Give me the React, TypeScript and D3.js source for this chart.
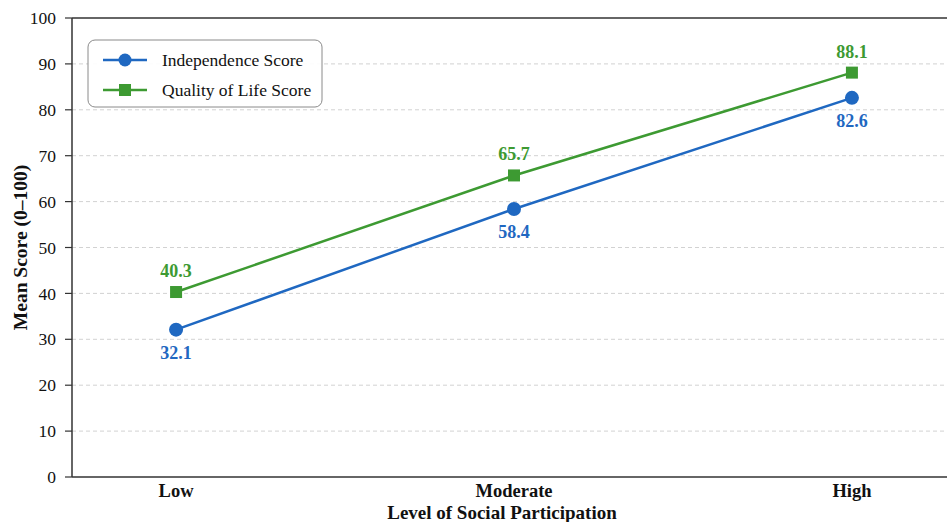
import React from 'react';
import * as d3 from 'd3';

const categories = ['Low', 'Moderate', 'High'];
const independence = [32.1, 58.4, 82.6];
const qualityOfLife = [40.3, 65.7, 88.1];
const yTicks = [0, 10, 20, 30, 40, 50, 60, 70, 80, 90, 100];

const width = 947;
const height = 522;
const margin = { top: 18, right: -9, bottom: 45, left: 72 };

const blue = '#1f68c1';
const green = '#3d9a32';
const font = '"Liberation Serif", "DejaVu Serif", serif';

const App = () => {
  const innerW = width - margin.left - margin.right;
  const innerH = height - margin.top - margin.bottom;

  const x = d3.scalePoint<string>().domain(categories).range([0, innerW]).padding(0.308);
  const y = d3.scaleLinear().domain([0, 100]).range([innerH, 0]);

  const line = d3
    .line<number>()
    .x((_, i) => x(categories[i]) as number)
    .y((d) => y(d));

  return (
    <svg
      width={width}
      height={height}
      style={{ position: 'absolute', left: 0, top: 0, background: '#fff' }}
      fontFamily={font}
    >
      <g transform={`translate(${margin.left},${margin.top})`}>
        {yTicks.map((t) => (
          <g key={t}>
            {t > 0 && t < 100 && (
              <line x1={0} x2={innerW} y1={y(t)} y2={y(t)} stroke="#d2d2d2" strokeWidth={1} strokeDasharray="4,3" />
            )}
            <line x1={-7} x2={0} y1={y(t)} y2={y(t)} stroke="#333" strokeWidth={1.2} />
            <text x={-16} y={y(t)} dy="0.35em" textAnchor="end" fontSize={17.5} fill="#111">
              {t}
            </text>
          </g>
        ))}

        <line x1={0} x2={0} y1={0} y2={innerH} stroke="#333" strokeWidth={1.5} />
        <line x1={0} x2={innerW} y1={innerH} y2={innerH} stroke="#333" strokeWidth={1.5} />
        <line x1={0} x2={innerW} y1={0} y2={0} stroke="#333" strokeWidth={1.5} />

        {categories.map((c) => (
          <text key={c} x={x(c)} y={innerH + 20} textAnchor="middle" fontSize={18.5} fontWeight="bold" fill="#111">
            {c}
          </text>
        ))}

        <text x={430} y={innerH + 42} textAnchor="middle" fontSize={19} fontWeight="bold" fill="#111">
          Level of Social Participation
        </text>
        <text
          transform={`translate(${-45},${innerH / 2}) rotate(-90)`}
          textAnchor="middle"
          fontSize={19.5}
          fontWeight="bold"
          fill="#111"
        >
          Mean Score (0–100)
        </text>

        <path d={line(qualityOfLife) || ''} fill="none" stroke={green} strokeWidth={2.5} />
        <path d={line(independence) || ''} fill="none" stroke={blue} strokeWidth={2.5} />

        {qualityOfLife.map((v, i) => (
          <g key={'q' + i}>
            <rect x={(x(categories[i]) as number) - 6} y={y(v) - 6} width={12} height={12} fill={green} />
            <text x={x(categories[i])} y={y(v) - 15} textAnchor="middle" fontSize={18} fontWeight="bold" fill={green}>
              {v.toFixed(1)}
            </text>
          </g>
        ))}
        {independence.map((v, i) => (
          <g key={'i' + i}>
            <circle cx={x(categories[i])} cy={y(v)} r={7} fill={blue} />
            <text x={x(categories[i])} y={y(v) + 29} textAnchor="middle" fontSize={18} fontWeight="bold" fill={blue}>
              {v.toFixed(1)}
            </text>
          </g>
        ))}

        <g transform="translate(16,22)">
          <rect x={0} y={0} width={234} height={67} rx={7} fill="#fff" fillOpacity={0.9} stroke="#8a8a8a" strokeWidth={1} />
          <line x1={15} x2={59} y1={20} y2={20} stroke={blue} strokeWidth={2.5} />
          <circle cx={37} cy={20} r={6.5} fill={blue} />
          <text x={74} y={20} dy="0.35em" fontSize={17.5} fill="#111">
            Independence Score
          </text>
          <line x1={15} x2={59} y1={50} y2={50} stroke={green} strokeWidth={2.5} />
          <rect x={31} y={44} width={12} height={12} fill={green} />
          <text x={74} y={50} dy="0.35em" fontSize={17.5} fill="#111">
            Quality of Life Score
          </text>
        </g>
      </g>
    </svg>
  );
};

export default App;
